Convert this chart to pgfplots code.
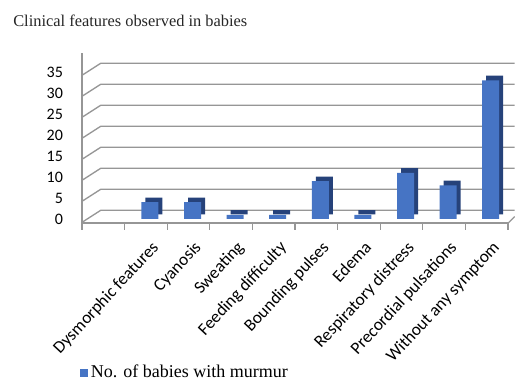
\documentclass[border=0pt]{standalone}
\usepackage{pgfplots}
\pgfplotsset{compat=1.18}
\usepackage{fontspec}
\setmainfont{Liberation Serif}
\newfontfamily\calibri{Carlito}
\definecolor{barfront}{RGB}{70,116,196}
\definecolor{barside}{RGB}{38,66,122}
\definecolor{gridc}{RGB}{150,150,150}
\begin{document}
\begin{tikzpicture}[x=1pt,y=1pt]
\useasboundingbox (-61.5,-118.35) rectangle (324.75,167.4);
\node[anchor=base west, font=\fontsize{12.3}{12.3}\selectfont, inner sep=0pt, text=black!85] at (-51.75,147.15) {Clinical features observed in babies};
\begin{axis}[
  at={(0,0)}, anchor=south west,
  scale only axis, width=319.5pt, height=127.6pt,
  xmin=-0.5, xmax=9.5, ymin=-1, ymax=39.5,
  clip=false,
  axis lines=left,
  axis line style={-, draw=gridc, line width=1.2pt},
  ytick={0,5,...,35},
  /pgf/number format/assume math mode=true,
  yticklabel style={font=\calibri\fontsize{12}{12}\selectfont, xshift=-6.5pt},
  major y tick style={draw=none},
  xtick={1,...,9},
  xticklabels={Dysmorphic features, Cyanosis, Sweating, Feeding difficulty, Bounding pulses, Edema, Respiratory distress, Precordial pulsations, Without any symptom},
  xticklabel style={font=\calibri\fontsize{13}{13}\selectfont, rotate=47, anchor=north east, inner sep=1pt, yshift=-7pt, xshift=-2.5pt},
  major x tick style={draw=none},
  minor xtick={-0.5,0.5,...,9.5},
  minor x tick style={draw=gridc, line width=1pt},
  minor tick length=5pt,
  tick align=outside,
  legend style={at={(axis description cs:-0.005,-0.878)}, anchor=west, draw=none, fill=none, inner sep=0pt,
    font=\fontsize{13.5}{13.5}\selectfont},
  legend image code/.code={\fill[barfront] (0pt,-3pt) rectangle (6pt,3pt);},
]
\pgfplotsinvokeforeach{0,5,10,15,20,25,30,35}{
  \draw[gridc, line width=1pt] ([yshift=-2.5pt]axis cs:-0.5,#1) -- ([xshift=14pt,yshift=6.5pt]axis cs:-0.5,#1) -- ([xshift=5pt,yshift=6.5pt]axis cs:9.5,#1);
}
\draw[gridc, line width=1pt] (axis cs:9.5,-1) -- ++(5pt,5pt);
\addplot[ybar, bar width=12.75pt, bar shift=6pt, yshift=3.5pt, fill=barside, draw=none, forget plot]
  coordinates {(1,4) (2,4) (3,1) (4,1) (5,9) (6,1) (7,11) (8,8) (9,33)};
\addplot[ybar, bar width=12.75pt, bar shift=3pt, fill=barfront, draw=none]
  coordinates {(1,4) (2,4) (3,1) (4,1) (5,9) (6,1) (7,11) (8,8) (9,33)};
\addlegendentry{No. of babies with murmur}
\end{axis}
\end{tikzpicture}
\end{document}
